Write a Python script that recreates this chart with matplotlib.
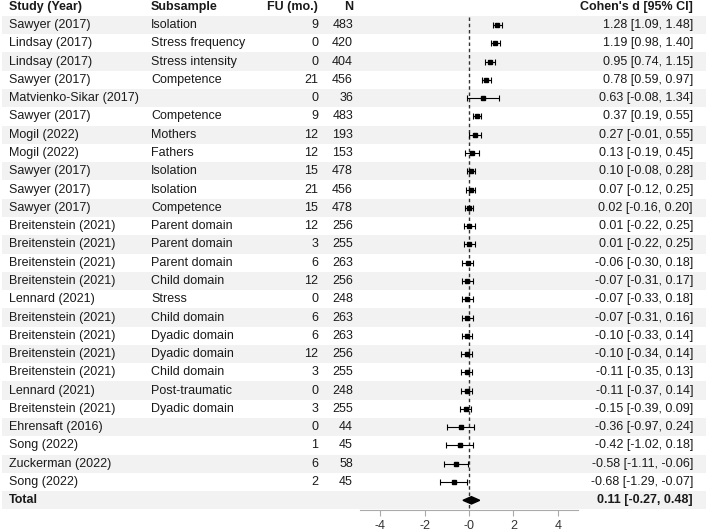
import numpy as np
import matplotlib.pyplot as plt
from matplotlib.patches import Polygon

plt.rcParams['font.family'] = ['Liberation Sans', 'DejaVu Sans']

studies = ["Sawyer (2017)", "Lindsay (2017)", "Lindsay (2017)", "Sawyer (2017)",
           "Matvienko-Sikar (2017)", "Sawyer (2017)", "Mogil (2022)", "Mogil (2022)",
           "Sawyer (2017)", "Sawyer (2017)", "Sawyer (2017)", "Breitenstein (2021)",
           "Breitenstein (2021)", "Breitenstein (2021)", "Breitenstein (2021)",
           "Lennard (2021)", "Breitenstein (2021)", "Breitenstein (2021)",
           "Breitenstein (2021)", "Breitenstein (2021)", "Lennard (2021)",
           "Breitenstein (2021)", "Ehrensaft (2016)", "Song (2022)",
           "Zuckerman (2022)", "Song (2022)"]
subsamples = ["Isolation", "Stress frequency", "Stress intensity", "Competence", "",
              "Competence", "Mothers", "Fathers", "Isolation", "Isolation", "Competence",
              "Parent domain", "Parent domain", "Parent domain", "Child domain", "Stress",
              "Child domain", "Dyadic domain", "Dyadic domain", "Child domain",
              "Post-traumatic", "Dyadic domain", "", "", "", ""]
fu = [9, 0, 0, 21, 0, 9, 12, 12, 15, 21, 15, 12, 3, 6, 12, 0, 6, 6, 12, 3, 0, 3, 0, 1, 6, 2]
n = [483, 420, 404, 456, 36, 483, 193, 153, 478, 456, 478, 256, 255, 263, 256, 248,
     263, 263, 256, 255, 248, 255, 44, 45, 58, 45]
d = [1.28, 1.19, 0.95, 0.78, 0.63, 0.37, 0.27, 0.13, 0.10, 0.07, 0.02, 0.01, 0.01,
     -0.06, -0.07, -0.07, -0.07, -0.10, -0.10, -0.11, -0.11, -0.15, -0.36, -0.42,
     -0.58, -0.68]
lo = [1.09, 0.98, 0.74, 0.59, -0.08, 0.19, -0.01, -0.19, -0.08, -0.12, -0.16, -0.22,
      -0.22, -0.30, -0.31, -0.33, -0.31, -0.33, -0.34, -0.35, -0.37, -0.39, -0.97,
      -1.02, -1.11, -1.29]
hi = [1.48, 1.40, 1.15, 0.97, 1.34, 0.55, 0.55, 0.45, 0.28, 0.25, 0.20, 0.25, 0.25,
      0.18, 0.17, 0.18, 0.16, 0.14, 0.14, 0.13, 0.14, 0.09, 0.24, 0.18, -0.06, -0.07]
total_d, total_lo, total_hi = 0.11, -0.27, 0.48
xticks = [-4, -2, 0, 2, 4]
xticklabels = ["-4", "-2", "-0", "2", "4"]

W, H = 708, 532
fig = plt.figure(figsize=(W / 100, H / 100), dpi=100)

n_rows = len(studies) + 1
y = np.arange(len(studies))
y_total = len(studies)
ylim = (26.53, -1.368)
bottom = 22 / H
height = 510 / H

# table / background axes in pixel x units
ax_tab = fig.add_axes([0, bottom, 1, height])
ax_tab.set_xlim(0, W)
ax_tab.set_ylim(*ylim)
ax_tab.axis('off')

for i in range(0, n_rows, 2):
    ax_tab.axhspan(i - 0.5, i + 0.5, xmin=2 / W, xmax=706 / W, color='#f2f2f2', lw=0, zorder=0)

fs = 9
hdr = dict(fontsize=fs, fontweight='bold', va='center', color='#1a1a1a')
ax_tab.text(9, -1, "Study (Year)", ha='left', **hdr)
ax_tab.text(151, -1, "Subsample", ha='left', **hdr)
ax_tab.text(318, -1, "FU (mo.)", ha='right', **hdr)
ax_tab.text(353, -1, "N", ha='right', **hdr)
ax_tab.text(693, -1, "Cohen's d [95% CI]", ha='right', **hdr)

txt = dict(fontsize=fs, va='center', color='#1a1a1a')
for i in range(len(studies)):
    ax_tab.text(9, i, studies[i], ha='left', **txt)
    ax_tab.text(151, i, subsamples[i], ha='left', **txt)
    ax_tab.text(318, i, str(fu[i]), ha='right', **txt)
    ax_tab.text(353, i, str(n[i]), ha='right', **txt)
    ax_tab.text(693, i, f"{d[i]:.2f} [{lo[i]:.2f}, {hi[i]:.2f}]", ha='right', **txt)
ax_tab.text(9, y_total, "Total", ha='left', fontweight='bold', fontsize=fs, va='center', color='#1a1a1a')
ax_tab.text(693, y_total, f"{total_d:.2f} [{total_lo:.2f}, {total_hi:.2f}]", ha='right',
            fontweight='bold', fontsize=fs, va='center', color='#1a1a1a')

# forest axes
ax = fig.add_axes([360 / W, bottom, 218 / W, height])
ax.patch.set_alpha(0)
ax.set_xlim(-4.9, 4.9)
ax.set_ylim(*ylim)

d_arr = np.array(d)
err = [d_arr - np.array(lo), np.array(hi) - d_arr]
ax.errorbar(d_arr, y, xerr=err, fmt='s', color='black', ms=3, lw=0.8,
            capsize=2, capthick=0.8, zorder=3)

diamond = Polygon([[total_lo, y_total], [total_d, y_total - 0.2], [total_hi, y_total],
                   [total_d, y_total + 0.2]], closed=True, color='black', zorder=3)
ax.add_patch(diamond)

ax.plot([0, 0], [-0.45, ylim[0]], ls=(0, (2.5, 2)), color='#333333', lw=1, zorder=2)

for s in ['top', 'right', 'left']:
    ax.spines[s].set_visible(False)
ax.spines['bottom'].set_color('#aaaaaa')
ax.set_yticks([])
ax.set_xticks(xticks)
ax.set_xticklabels(xticklabels)
ax.tick_params(axis='x', colors='#aaaaaa', labelcolor='#333333', length=4, labelsize=fs)

fig.savefig('out.png', dpi=100)
